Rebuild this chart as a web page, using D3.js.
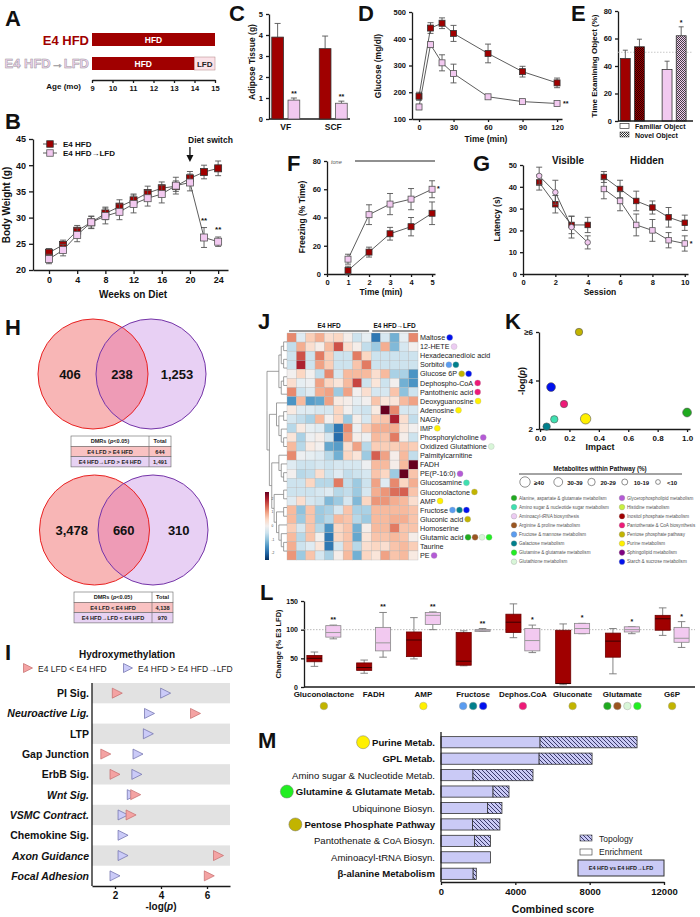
<!DOCTYPE html>
<html><head><meta charset="utf-8">
<script src="https://cdn.jsdelivr.net/npm/d3@7"></script>
<style>body{margin:0;background:#fff}svg{display:block}</style>
</head><body><svg id="c" width="700" height="917"></svg>
<script>
// ================= DATA =================
const ageTicks = [9,10,11,12,13,14,15];
const switchAge = 14;

const weeks = [0,2,4,6,8,10,12,14,16,18,20,22,24];
const bwHFD = [23.3,24.8,27.5,29.1,30.8,32.1,33.3,34.7,35.6,36.0,37.5,38.7,39.4];
const bwHFDerr = [0.8,0.9,1.0,1.1,1.2,1.3,1.2,1.3,1.2,1.0,1.3,1.3,1.4];
const bwLFD = [22.1,23.8,26.7,29.1,30.3,31.1,32.6,33.7,34.5,36.1,36.7,26.2,25.4];
const bwLFDerr = [0.9,1.1,1.3,1.2,1.5,1.5,1.7,1.5,1.7,1.6,1.6,1.9,0.9];
const bwTicksX = [0,4,8,12,16,20,24];
const bwTicksY = [20,25,30,35,40,45];

const fatDepots = ["VF","SCF"];
const fatHFD = [3.9,3.35], fatHFDerr = [0.65,0.6];
const fatLFD = [0.9,0.75], fatLFDerr = [0.1,0.1];

const gttTime = [0,10,20,30,60,90,120];
const gttHFD = [185,440,458,420,345,277,235];
const gttHFDerr = [15,20,20,30,35,20,18];
const gttLFD = [145,378,310,270,183,165,158];
const gttLFDerr = [10,10,30,35,6,5,4];

const objGroups = ["HFD","LFD"];
const objFamiliar = [45.5,37.5], objFamiliarErr = [6,6];
const objNovel = [54,62], objNovelErr = [5.5,6.5];

const fearMin = [1,2,3,4,5];
const fearHFD = [2.5,15.5,28.5,33.5,43], fearHFDerr = [3,3.5,4.5,6.5,8];
const fearLFD = [10.5,42,49.5,53,60], fearLFDerr = [3.5,7,7.5,7.5,6];

const sessions = [1,2,3,4,5,6,7,8,9,10];
const mwmHFD = [42,32,22.5,22.5,44.5,39,33.5,30.5,26,23.5];
const mwmHFDerr = [3.5,4,4,3.5,2.5,4,4.5,3,4.5,3.5];
const mwmLFD = [45,37.5,21.5,14.5,39,33.5,22.5,20,15.5,14];
const mwmLFDerr = [4,5.5,5,3,4.5,4.5,5,5,3.5,3.5];

const vennUp = [406,238,1253];
const vennDown = [3478,660,310];
const tableUpRows = ["E4 LFD > E4 HFD","E4 HFD→LFD > E4 HFD"], tableUpTotals = [644,1491];
const tableDownRows = ["E4 LFD < E4 HFD","E4 HFD→LFD < E4 HFD"], tableDownTotals = [4138,970];

const hmPathways = ["PI Sig.","Neuroactive Lig.","LTP","Gap Junction","ErbB Sig.","Wnt Sig.","VSMC Contract.","Chemokine Sig.","Axon Guidance","Focal Adhesion"];
const hmItalic = [false,true,false,false,false,true,true,false,true,true];
const hmLFDlt = [2.1,5.5,null,1.6,2.0,2.9,2.7,null,6.5,6.1];
const hmHFDgt = [4.2,3.5,3.45,3.0,2.95,2.75,2.35,2.35,2.35,2.0];
const hmTicks = [2,4,6];

const pathNames = ["Alanine, aspartate & glutamate metabolism","Amino sugar & nucleotide sugar metabolism","Aminoacyl-tRNA biosynthesis","Arginine & proline metabolism","Fructose & mannose metabolism","Galactose metabolism","Glutamine & glutamate metabolism","Glutathione metabolism","Glycerophospholipid metabolism","Histidine metabolism","Inositol phosphate metabolism","Pantothenate & CoA biosynthesis","Pentose phosphate pathway","Purine metabolism","Sphingolipid metabolism","Starch & sucrose metabolism"];
const pathColors = ["#1faa1f","#3fe0b0","#ecccf2","#9a5520","#5a9cf0","#007f8c","#22ee22","#d8f6d8","#b45ad6","#c8f040","#a00000","#ee1a78","#c2b400","#fff000","#800080","#0010ee"];

const metabolites = ["Maltose","12-HETE","Hexadecanedioic acid","Sorbitol","Glucose 6P","Dephospho-CoA","Pantothenic acid","Deoxyguanosine","Adenosine","NAGly","IMP","Phosphorylcholine","Oxidized Glutathione","Palmitylcarnitine","FADH","PE(P-16:0)","Glucosamine","Gluconolactone","AMP","Fructose","Gluconic acid","Homoserine","Glutamic acid","Taurine","PE"];
const metabDots = [[15],[2],[],[4,5],[12,15],[11],[11],[13],[13],[],[13],[8],[7],[],[],[8],[1],[12],[13],[4,5,15],[12],[],[0,3,7,6],[],[8]];
const samples = ["h1","h2","h3","h4","h5","h6","h7","h8","h9","l1","l2","l3","l4","l5"];
const heatValues = [
 [1.2,-0.3,0.6,0.9,0.4,0.5,0.1,-0.5,-0.2,-1.8,-0.4,-1.2,-0.2,1.2],
 [-0.6,0.9,0.4,0.1,0.8,1.6,0.4,0.1,-0.6,-0.9,0.9,-1.1,-0.4,0.0],
 [-0.5,1.6,-0.5,1.3,0.6,-0.5,-0.5,1.3,0.5,-0.5,-0.5,-0.5,-0.5,-0.5],
 [-0.5,2.0,-0.5,1.0,0.6,-0.5,-0.5,0.7,1.3,-0.5,-0.5,-0.5,-0.5,-0.5],
 [0.0,0.5,0.0,-0.6,1.2,-0.4,0.8,0.8,0.8,0.4,0.8,-0.8,-0.8,-1.5],
 [0.4,-0.2,-0.1,1.0,0.5,0.3,0.8,1.7,-0.5,0.3,-0.5,0.0,-1.2,-1.5],
 [1.2,-0.5,-0.3,0.9,1.0,-0.9,1.0,0.0,0.4,-0.4,-0.4,0.7,-1.0,-0.5],
 [-1.5,0.8,-1.4,-1.3,1.0,0.2,0.1,-0.2,0.0,0.7,0.3,0.3,0.8,1.0],
 [0.2,-0.3,-0.3,-0.4,-0.4,0.5,0.0,-0.4,-0.5,0.2,2.5,1.2,-0.4,-0.4],
 [-0.4,-0.6,-0.8,0.8,0.0,0.5,-0.9,0.1,-0.4,0.6,0.7,2.0,0.4,-0.6],
 [-0.7,0.2,-0.2,-0.3,-1.0,-1.8,1.2,-0.1,0.6,0.9,0.9,0.9,0.3,0.0],
 [0.3,-0.8,-0.1,0.1,-0.4,-1.9,1.0,0.1,-0.1,0.8,0.7,1.3,0.1,-0.5],
 [0.8,-0.7,0.2,0.0,-1.3,-1.4,0.4,1.0,-0.7,0.6,0.6,0.6,0.7,0.6],
 [1.2,-0.1,-0.2,-0.3,-0.7,-1.2,0.5,0.3,-0.9,1.5,1.0,0.1,0.8,-0.6],
 [-0.3,-0.5,-0.5,-0.4,-0.5,-0.4,-0.4,-0.4,-0.1,0.8,0.8,0.1,0.8,2.6],
 [0.0,-0.7,-0.6,0.4,-0.5,-0.3,-0.6,-0.5,-0.4,0.7,0.5,-0.9,2.5,0.7],
 [-0.5,-0.5,0.5,-0.7,-0.7,1.3,-0.6,-0.9,-0.5,1.0,-0.3,1.2,0.5,0.9],
 [-0.5,-0.5,-0.5,-0.4,-0.3,-0.7,-0.6,-0.9,-0.4,0.9,1.1,1.4,1.5,0.7],
 [-0.3,0.4,-0.4,-0.5,-1.1,-0.9,-0.4,-1.1,0.5,1.1,1.1,0.9,0.8,0.4],
 [0.8,-1.0,0.7,-0.9,-0.8,-0.4,0.7,-0.8,-0.8,0.8,0.8,0.8,0.8,0.7],
 [0.8,-0.9,0.7,-0.9,-0.7,0.8,0.7,-0.7,-0.9,0.8,0.8,0.9,0.9,0.7],
 [0.6,-0.4,0.7,-0.7,-1.5,0.5,0.7,-1.2,0.1,0.8,0.8,1.3,0.7,0.7],
 [0.8,-0.7,0.7,0.0,-1.8,0.5,0.7,-1.3,0.3,0.7,0.7,0.8,0.7,0.1],
 [0.9,-0.5,-0.3,0.3,-1.8,-0.4,0.7,-0.7,0.4,0.5,0.4,0.7,0.8,0.6],
 [1.1,-0.9,0.7,-0.4,-0.8,0.1,0.8,-1.2,0.5,0.3,1.0,0.7,0.8,0.2]
];
const heatTree = [[[[0,1],[2,3]],[[4,5],6]],[[7,[[8,9],[10,[11,12]]]],[[13,[14,[15,16]]],[[17,18],[[19,20],[21,[22,[23,24]]]]]]]];
const heatBarTicks = [2,1,0,-1,-2];

const kPath = [12,15,11,1,13,5,0];
const kImpact = [0.265,0.075,0.163,0.097,0.31,0.045,1.0];
const kLogP = [6.0,3.73,3.03,2.4,2.42,2.1,2.68];
const kPct = [24,31,25,21,42,21,33];
const kSizeLabels = ["≥40","30-39","20-29","10-19","<10"];
const kSizeMin = [40,30,20,10,0];
const kTicksX = [0,0.2,0.4,0.6,0.8,1.0];
const kTicksY = [2,4,6];

const lMetab = ["Gluconolactone","FADH","AMP","Fructose","Dephos.CoA","Gluconate","Glutamate","G6P"];
const lHFD = [[36,44,50,55,61],[24,29,34,42,47],[49,53,82,96,121],[37,38,45,95,98],[86,95,113,127,145],[4,6,6,99,110],[23,52,80,94,102],[90,99,119,125,138]];
const lLFD = [[84,87,95,107,108],[52,63,77,104,130],[100,109,125,130,131],[97,97,99,100,102],[60,63,81,102,108],[93,93,102,111,111],[93,96,100,105,105],[69,78,85,104,114]];
const lStars = ["**","**","**","**","*","*","*","*"];
const lDots = [[12],[],[13],[4,5,15],[11],[12],[0,3,7,6],[12]];
const lTicks = [0,50,100,150];

const mPath = ["Purine Metab.","GPL Metab.","Amino sugar & Nucleotide Metab.","Glutamine & Glutamate Metab.","Ubiquinone Biosyn.","Pentose Phosphate Pathway","Pantothenate & CoA Biosyn.","Aminoacyl-tRNA Biosyn.","β-alanine Metabolism"];
const mEnrich = [5330,5280,1720,2800,2500,1700,1800,2660,1730];
const mTopo = [5220,2850,3230,860,780,1470,860,0,170];
const mBold = [true,true,false,true,false,true,false,false,true];
const mDot = [13,null,null,6,null,12,null,null,null];
const mTicks = [0,4000,8000,12000];

// ================= DRAW =================
const FONT = '"Liberation Sans", Arial, Helvetica, sans-serif';
const svg = d3.select("#c").attr("font-family", FONT);
const DARK = "#a00000", PINK = "#f2c9f0", AX = "#1a1a1a", ERR = "#555";
const fmtD = d3.format("d");

function txt(x, y, s, o = {}) {
  const t = svg.append("text").attr("x", x).attr("y", y).text(s)
    .attr("font-size", o.fs || 9).attr("font-weight", o.fw || "bold")
    .attr("text-anchor", o.a || "start").attr("fill", o.fill || "#111");
  if (o.rot) t.attr("transform", `rotate(-90,${x},${y})`);
  if (o.it) t.attr("font-style", "italic");
  return t;
}
function letter(x, y, s) { txt(x, y, s, {fs: 22}); }
function styleAxis(g, fs) {
  g.select(".domain").attr("stroke", AX).attr("stroke-width", 1.3);
  g.selectAll(".tick line").attr("stroke", AX).attr("stroke-width", 1.3);
  g.selectAll(".tick text").attr("font-size", fs).attr("font-weight", "bold").attr("fill", "#111").attr("font-family", FONT);
  return g;
}
function errBars(xs, ys, es, x, y, cap, up) {
  xs.forEach((xv, i) => {
    const lo = up ? ys[i] : ys[i] - es[i], hi = ys[i] + es[i], cx = x(xv);
    svg.append("line").attr("x1", cx).attr("x2", cx).attr("y1", y(lo)).attr("y2", y(hi)).attr("stroke", ERR).attr("stroke-width", 0.9);
    svg.append("line").attr("x1", cx - cap).attr("x2", cx + cap).attr("y1", y(hi)).attr("y2", y(hi)).attr("stroke", ERR).attr("stroke-width", 0.9);
    if (!up) svg.append("line").attr("x1", cx - cap).attr("x2", cx + cap).attr("y1", y(lo)).attr("y2", y(lo)).attr("stroke", ERR).attr("stroke-width", 0.9);
  });
}
function series(xs, ys, es, x, y, fill, stroke, size, shapeFn) {
  errBars(xs, ys, es, x, y, 3, false);
  svg.append("path").attr("d", d3.line().x((d, i) => x(xs[i])).y(d => y(d))(ys))
    .attr("fill", "none").attr("stroke", "#333").attr("stroke-width", 0.8);
  xs.forEach((xv, i) => marker(x(xv), y(ys[i]), fill, stroke, size, shapeFn ? shapeFn(i) : "sq"));
}
function marker(cx, cy, fill, stroke, s, shape) {
  if (shape === "circ") svg.append("circle").attr("cx", cx).attr("cy", cy).attr("r", s / 2).attr("fill", fill).attr("stroke", stroke).attr("stroke-width", 0.8);
  else svg.append("rect").attr("x", cx - s / 2).attr("y", cy - s / 2).attr("width", s).attr("height", s).attr("fill", fill).attr("stroke", stroke).attr("stroke-width", 0.8);
}

// patterns
const defs = svg.append("defs");
function checker(id, bg, fg) {
  const p = defs.append("pattern").attr("id", id).attr("width", 2).attr("height", 2).attr("patternUnits", "userSpaceOnUse");
  p.append("rect").attr("width", 2).attr("height", 2).attr("fill", bg);
  p.append("rect").attr("width", 1).attr("height", 1).attr("fill", fg);
  p.append("rect").attr("x", 1).attr("y", 1).attr("width", 1).attr("height", 1).attr("fill", fg);
}
checker("chkRed", DARK, "#2a0000");
checker("chkPink", PINK, "#444");
checker("chkWhite", "#fff", "#333");
const hp = defs.append("pattern").attr("id", "hatch").attr("width", 4).attr("height", 4).attr("patternUnits", "userSpaceOnUse");
hp.append("rect").attr("width", 4).attr("height", 4).attr("fill", "#cacaf6");
hp.append("path").attr("d", "M-1,-1 L5,5 M-1,3 L1,5 M3,-1 L5,1").attr("stroke", "#2a2a5c").attr("stroke-width", 0.9);

// ---------- A ----------
letter(5, 26, "A");
const xA = d3.scaleLinear().domain([9, 15]).range([92, 215]);
txt(89, 45, "E4 HFD", {fs: 13, a: "end", fill: DARK});
txt(89, 68, "E4 HFD→LFD", {fs: 13, a: "end", fill: "#f0d2f0"}).attr("stroke", "#9a9a9a").attr("stroke-width", 0.5);
svg.append("rect").attr("x", xA(9)).attr("y", 33).attr("width", xA(15) - xA(9)).attr("height", 13).attr("fill", DARK);
txt((xA(9) + xA(15)) / 2, 43, "HFD", {fs: 8.5, a: "middle", fill: "#fff"});
svg.append("rect").attr("x", xA(9)).attr("y", 57).attr("width", xA(switchAge) - xA(9)).attr("height", 13).attr("fill", DARK);
svg.append("rect").attr("x", xA(switchAge)).attr("y", 57).attr("width", xA(15) - xA(switchAge)).attr("height", 13).attr("fill", "#fbe2e8").attr("stroke", "#b08080").attr("stroke-width", 0.5);
txt((xA(9) + xA(switchAge)) / 2, 67, "HFD", {fs: 8.5, a: "middle", fill: "#fff"});
txt((xA(switchAge) + xA(15)) / 2, 67, "LFD", {fs: 8, a: "middle", fill: "#222"});
styleAxis(svg.append("g").attr("transform", "translate(0,80)").call(d3.axisBottom(xA).tickValues(ageTicks).tickSize(3).tickSizeOuter(0).tickFormat(fmtD)), 7.5);
txt(81, 89, "Age (mo)", {fs: 8, a: "end"});

// ---------- B ----------
letter(5, 129, "B");
const xB = d3.scaleLinear().domain([-2.27, 25.4]).range([33, 228]);
const yB = d3.scaleLinear().domain([20, 45]).range([270, 139]);
styleAxis(svg.append("g").attr("transform", "translate(0,270)").call(d3.axisBottom(xB).tickValues(bwTicksX).tickFormat(fmtD).tickSize(4).tickSizeOuter(0)), 9);
styleAxis(svg.append("g").attr("transform", "translate(33,0)").call(d3.axisLeft(yB).tickValues(bwTicksY).tickFormat(fmtD).tickSize(4).tickSizeOuter(0)), 9);
series(weeks, bwHFD, bwHFDerr, xB, yB, DARK, "#333", 7);
series(weeks, bwLFD, bwLFDerr, xB, yB, PINK, "#555", 7);
["**", "**"].forEach((s, i) => {
  const w = weeks[11 + i];
  txt(xB(w), yB(bwLFD[11 + i] + bwLFDerr[11 + i]) - 5, s, {fs: 8, a: "middle"});
});
txt(188, 143, "Diet switch", {fs: 8.5});
svg.append("line").attr("x1", xB(20)).attr("x2", xB(20)).attr("y1", 147).attr("y2", 157).attr("stroke", "#111").attr("stroke-width", 1.3);
svg.append("path").attr("d", `M${xB(20) - 3.5},155 L${xB(20) + 3.5},155 L${xB(20)},162 Z`).attr("fill", "#111");
[["E4 HFD", DARK, "#333", 144], ["E4 HFD→LFD", PINK, "#555", 153]].forEach(([t, f, s, y]) => {
  svg.append("line").attr("x1", 43).attr("x2", 57).attr("y1", y).attr("y2", y).attr("stroke", "#333").attr("stroke-width", 0.8);
  marker(50, y, f, s, 6.5, "sq");
  txt(63, y + 3, t, {fs: 8});
});
txt(10, 205, "Body Weight (g)", {fs: 10, a: "middle", rot: true});
txt(133, 298, "Weeks on Diet", {fs: 10, a: "middle"});

// ---------- C ----------
letter(229, 21, "C");
const yC = d3.scaleLinear().domain([0, 5]).range([119, 14]);
const xC = d3.scaleBand().domain(fatDepots).range([262, 357]);
const subC = d3.scaleBand().domain(["HFD", "LFD"]).range([-14, 14]).paddingInner(0.28);
styleAxis(svg.append("g").attr("transform", "translate(269,0)").call(d3.axisLeft(yC).ticks(5).tickFormat(fmtD).tickSize(3).tickSizeOuter(0)), 7.5);
svg.append("line").attr("x1", 269).attr("x2", 350).attr("y1", 119).attr("y2", 119).attr("stroke", AX).attr("stroke-width", 1.3);
fatDepots.forEach((d, i) => {
  [["HFD", fatHFD[i], fatHFDerr[i], DARK, "#333"], ["LFD", fatLFD[i], fatLFDerr[i], PINK, "#555"]].forEach(([g, v, e, f, s]) => {
    const x0 = xC(d) + xC.bandwidth() / 2 + subC(g), w = subC.bandwidth(), cx = x0 + w / 2;
    errBars([cx], [v], [e], c => c, yC, 3, true);
    svg.append("rect").attr("x", x0).attr("y", yC(v)).attr("width", w).attr("height", yC(0) - yC(v)).attr("fill", f).attr("stroke", s).attr("stroke-width", 0.8);
    if (g === "LFD") txt(cx, yC(v + e) - 2, "**", {fs: 7, a: "middle"});
  });
  txt(xC(d) + xC.bandwidth() / 2, 130, d, {fs: 8.5, a: "middle"});
});
txt(255, 62, "Adipose Tissue (g)", {fs: 8.5, a: "middle", rot: true});

// ---------- D ----------
letter(358, 21, "D");
const xD = d3.scaleLinear().domain([-6.1, 124.3]).range([412, 562]);
const yD = d3.scaleLinear().domain([100, 500]).range([119, 12]);
styleAxis(svg.append("g").attr("transform", "translate(0,119)").call(d3.axisBottom(xD).tickValues([0, 30, 60, 90, 120]).tickFormat(fmtD).tickSize(3).tickSizeOuter(0)), 7.5);
styleAxis(svg.append("g").attr("transform", "translate(412,0)").call(d3.axisLeft(yD).tickValues([100, 200, 300, 400, 500]).tickFormat(fmtD).tickSize(3).tickSizeOuter(0)), 7.5);
series(gttTime, gttHFD, gttHFDerr, xD, yD, DARK, "#333", 6);
series(gttTime, gttLFD, gttLFDerr, xD, yD, PINK, "#555", 6);
txt(xD(120) + 6, yD(gttLFD[6]) + 3, "**", {fs: 7});
txt(381, 66, "Glucose (mg/dl)", {fs: 8.5, a: "middle", rot: true});
txt(486, 142, "Time (min)", {fs: 8.5, a: "middle"});

// ---------- E ----------
letter(571, 21, "E");
const yE = d3.scaleLinear().domain([0, 80]).range([121, 11]);
const xE = d3.scaleBand().domain(objGroups).range([611.5, 695]);
const subE = d3.scaleBand().domain(["Familiar", "Novel"]).range([-12, 12]).paddingInner(0.3);
styleAxis(svg.append("g").attr("transform", "translate(618,0)").call(d3.axisLeft(yE).tickValues([0, 20, 40, 60, 80]).tickFormat(fmtD).tickSize(3).tickSizeOuter(0)), 7.5);
svg.append("line").attr("x1", 618).attr("x2", 693).attr("y1", yE(50)).attr("y2", yE(50)).attr("stroke", "#bbb").attr("stroke-width", 0.8).attr("stroke-dasharray", "1.5,1.5");
const eFills = [[DARK, "url(#chkRed)"], [PINK, "url(#chkPink)"]];
objGroups.forEach((g, i) => {
  [["Familiar", objFamiliar[i], objFamiliarErr[i], eFills[i][0]], ["Novel", objNovel[i], objNovelErr[i], eFills[i][1]]].forEach(([k, v, e, f]) => {
    const x0 = xE(g) + xE.bandwidth() / 2 + subE(k), w = subE.bandwidth(), cx = x0 + w / 2;
    errBars([cx], [v], [e], c => c, yE, 2.5, true);
    svg.append("rect").attr("x", x0).attr("y", yE(v)).attr("width", w).attr("height", yE(0) - yE(v)).attr("fill", f).attr("stroke", "#333").attr("stroke-width", 0.8);
    if (g === "LFD" && k === "Novel") txt(cx, yE(v + e) - 2, "*", {fs: 7, a: "middle"});
  });
});
svg.append("line").attr("x1", 618).attr("x2", 693).attr("y1", 121).attr("y2", 121).attr("stroke", AX).attr("stroke-width", 1.3);
svg.append("rect").attr("x", 620).attr("y", 123.5).attr("width", 9).attr("height", 5).attr("fill", "#fff").attr("stroke", "#333").attr("stroke-width", 0.7);
txt(635, 129, "Familiar Object", {fs: 7});
svg.append("rect").attr("x", 620).attr("y", 132).attr("width", 9).attr("height", 5).attr("fill", "url(#chkWhite)").attr("stroke", "#333").attr("stroke-width", 0.5);
txt(635, 137.5, "Novel Object", {fs: 7});
txt(597, 66, "Time Examining Object (%)", {fs: 8, a: "middle", rot: true});

// ---------- F ----------
letter(287, 171, "F");
const xF = d3.scaleLinear().domain([0, 5.14]).range([327, 435]);
const yF = d3.scaleLinear().domain([0, 80]).range([274, 161]);
styleAxis(svg.append("g").attr("transform", "translate(0,274)").call(d3.axisBottom(xF).tickValues([0, 1, 2, 3, 4, 5]).tickFormat(fmtD).tickSize(3).tickSizeOuter(0)), 7.5);
styleAxis(svg.append("g").attr("transform", "translate(327,0)").call(d3.axisLeft(yF).tickValues([0, 20, 40, 60, 80]).tickFormat(fmtD).tickSize(3).tickSizeOuter(0)), 7.5);
txt(331, 164, "tone", {fs: 5.5, fw: "normal", it: true, fill: "#555"});
svg.append("line").attr("x1", 355).attr("x2", 435).attr("y1", yF(80)).attr("y2", yF(80)).attr("stroke", "#222").attr("stroke-width", 1.2);
series(fearMin, fearHFD, fearHFDerr, xF, yF, DARK, "#333", 6);
series(fearMin, fearLFD, fearLFDerr, xF, yF, PINK, "#555", 6);
txt(xF(5) + 5, yF(fearLFD[4]) + 2, "*", {fs: 7});
txt(305, 217, "Freezing (% Time)", {fs: 8.5, a: "middle", rot: true});
txt(381, 295, "Time  (min)", {fs: 8.5, a: "middle"});

// ---------- G ----------
letter(473, 171, "G");
const xG = d3.scaleLinear().domain([0, 10.2]).range([523, 688]);
const yG = d3.scaleLinear().domain([0, 50]).range([274, 165]);
styleAxis(svg.append("g").attr("transform", "translate(0,274)").call(d3.axisBottom(xG).tickValues([0, 2, 4, 6, 8, 10]).tickFormat(fmtD).tickSize(3).tickSizeOuter(0)), 7.5);
styleAxis(svg.append("g").attr("transform", "translate(523,0)").call(d3.axisLeft(yG).tickValues([0, 10, 20, 30, 40, 50]).tickFormat(fmtD).tickSize(3).tickSizeOuter(0)), 7.5);
[[0, 4], [4, 10]].forEach(([a, b]) => {
  const s = sessions.slice(a, b);
  series(s, mwmHFD.slice(a, b), mwmHFDerr.slice(a, b), xG, yG, DARK, "#333", 5.5);
  series(s, mwmLFD.slice(a, b), mwmLFDerr.slice(a, b), xG, yG, PINK, "#555", 5.5, () => a === 0 ? "circ" : "sq");
});
txt(xG(10) + 5, yG(mwmLFD[9]) + 3, "*", {fs: 7});
txt(568, 164, "Visible", {fs: 10, a: "middle"});
txt(647, 164, "Hidden", {fs: 10, a: "middle"});
txt(500, 219, "Latency (s)", {fs: 8.5, a: "middle", rot: true});
txt(600, 295, "Session", {fs: 8.5, a: "middle"});

// ---------- H ----------
letter(5, 335, "H");
function venn(cy, cxL, cxR, vals) {
  const r = 55, id = "clip" + cy;
  defs.append("clipPath").attr("id", id).append("circle").attr("cx", cxL).attr("cy", cy).attr("r", r);
  svg.append("circle").attr("cx", cxL).attr("cy", cy).attr("r", r).attr("fill", "#f8b6b6");
  svg.append("circle").attr("cx", cxR).attr("cy", cy).attr("r", r).attr("fill", "#e8d0f4");
  svg.append("circle").attr("cx", cxR).attr("cy", cy).attr("r", r).attr("fill", "#ee9bb6").attr("clip-path", `url(#${id})`);
  svg.append("circle").attr("cx", cxL).attr("cy", cy).attr("r", r).attr("fill", "none").attr("stroke", "#e82222").attr("stroke-width", 1);
  svg.append("circle").attr("cx", cxR).attr("cy", cy).attr("r", r).attr("fill", "none").attr("stroke", "#7434a8").attr("stroke-width", 1);
  const fmt = d3.format(",");
  const xs = [(cxL - r + cxR - r) / 2 + 3, (cxR - r + cxL + r) / 2, (cxL + r + cxR + r) / 2];
  vals.forEach((v, i) => txt(xs[i], cy + 5, fmt(v), {fs: 13, a: "middle"}));
}
venn(374, 93, 151, vennUp);
venn(530, 94.5, 153, vennDown);
function table(x0, y0, split, w, rows, totals) {
  const rh = 10.3, fills = ["#fff", "#f9c2c2", "#e7d2f3"];
  const labels = [["DMRs (", "p", "<0.05)"]].concat(rows.map(r => [r]));
  const tots = ["Total"].concat(totals.map(d3.format(",")));
  labels.forEach((l, i) => {
    svg.append("rect").attr("x", x0).attr("y", y0 + i * rh).attr("width", w).attr("height", rh).attr("fill", fills[i]).attr("stroke", "#666").attr("stroke-width", 0.6);
    svg.append("line").attr("x1", x0 + split).attr("x2", x0 + split).attr("y1", y0 + i * rh).attr("y2", y0 + (i + 1) * rh).attr("stroke", "#666").attr("stroke-width", 0.6);
    const t = txt(x0 + split / 2, y0 + i * rh + 7.3, "", {fs: 5.6, a: "middle", fill: "#222"});
    l.forEach((s, j) => t.append("tspan").text(s).attr("font-style", l.length > 1 && j === 1 ? "italic" : null));
    txt(x0 + split + (w - split) / 2, y0 + i * rh + 7.3, tots[i], {fs: 5.6, a: "middle", fill: "#222"});
  });
}
table(71, 436, 78, 100, tableUpRows, tableUpTotals);
table(74, 592, 78, 99, tableDownRows, tableDownTotals);

// ---------- I ----------
letter(5, 660, "I");
txt(127, 658, "Hydroxymethylation", {fs: 10, a: "middle"});
const triR = "#f4a3a3", triRs = "#c46a6a", triB = "#cbcbf8", triBs = "#6a6aa8";
function tri(cx, cy, f, s, sz) {
  svg.append("path").attr("d", `M${cx - sz / 2},${cy - sz / 2} L${cx + sz / 2},${cy} L${cx - sz / 2},${cy + sz / 2} Z`).attr("fill", f).attr("stroke", s).attr("stroke-width", 0.7);
}
tri(28, 668, triR, triRs, 9); txt(38, 671.5, "E4 LFD < E4 HFD", {fs: 8.5, fw: "normal", fill: "#222"});
tri(128, 668, triB, triBs, 9); txt(138, 671.5, "E4 HFD > E4 HFD→LFD", {fs: 8.5, fw: "normal", fill: "#222"});
const yI = d3.scaleBand().domain(hmPathways).range([683, 886]);
const xI = d3.scaleLinear().domain([1, 7]).range([92, 230]);
hmPathways.forEach((p, i) => {
  if (i % 2 === 0) svg.append("rect").attr("x", 92).attr("y", yI(p)).attr("width", xI(7) - 92).attr("height", yI.bandwidth()).attr("fill", "#e2e2e2");
  txt(89, yI(p) + yI.bandwidth() / 2 + 4, p, {fs: 10.5, a: "end", it: hmItalic[i]});
});
hmPathways.forEach((p, i) => {
  const cy = yI(p) + yI.bandwidth() / 2;
  tri(xI(hmHFDgt[i]), cy, triB, triBs, 10);
  if (hmLFDlt[i] !== null) tri(xI(hmLFDlt[i]), cy, triR, triRs, 10);
});
styleAxis(svg.append("g").attr("transform", "translate(0,886)").call(d3.axisBottom(xI).tickValues(hmTicks).tickFormat(fmtD).tickSize(3).tickSizeOuter(0)), 10);
svg.append("line").attr("x1", 92).attr("x2", 92).attr("y1", 683).attr("y2", 886).attr("stroke", AX).attr("stroke-width", 1.3);
{
  const t = txt(161, 910, "", {fs: 10, a: "middle"});
  t.append("tspan").text("-log(");
  t.append("tspan").text("p").attr("font-style", "italic");
  t.append("tspan").text(")");
}

// ---------- J ----------
letter(258, 329, "J");
const xJ = d3.scaleBand().domain(samples).range([287, 418]);
const yJ = d3.scaleBand().domain(metabolites).range([333, 560]);
const heatColor = d3.scaleSequential(t => d3.interpolateRdBu(1 - t)).domain([-2.5, 2.5]);
metabolites.forEach((m, i) => {
  samples.forEach((s, j) => {
    svg.append("rect").attr("x", xJ(s)).attr("y", yJ(m)).attr("width", xJ.bandwidth()).attr("height", yJ.bandwidth())
      .attr("fill", heatColor(heatValues[i][j])).attr("stroke", "#b5b5b5").attr("stroke-width", 0.35);
  });
  const t = txt(420, yJ(m) + yJ.bandwidth() / 2 + 2.6, m, {fs: 7.2, fw: "normal", fill: "#222"});
  const w = t.node().getComputedTextLength();
  metabDots[i].forEach((p, k) => {
    svg.append("circle").attr("cx", 420 + w + 4.5 + k * 7).attr("cy", yJ(m) + yJ.bandwidth() / 2).attr("r", 3)
      .attr("fill", pathColors[p]).attr("stroke", "#aaa").attr("stroke-width", 0.3);
  });
});
txt((xJ("h1") + xJ("h9") + xJ.bandwidth()) / 2, 328, "E4 HFD", {fs: 6.5, a: "middle"});
txt((xJ("l1") + xJ("l5") + xJ.bandwidth()) / 2, 328, "E4 HFD→LFD", {fs: 6.5, a: "middle"});
svg.append("line").attr("x1", xJ("h1") + 2).attr("x2", xJ("h9") + xJ.bandwidth() - 2).attr("y1", 331).attr("y2", 331).attr("stroke", "#333").attr("stroke-width", 1);
svg.append("line").attr("x1", xJ("l1") + 1).attr("x2", xJ("l5") + xJ.bandwidth()).attr("y1", 331).attr("y2", 331).attr("stroke", "#333").attr("stroke-width", 1);
// dendrogram
const root = d3.hierarchy(heatTree, d => Array.isArray(d) ? d : null);
d3.cluster().size([yJ.step() * (metabolites.length - 1), 19]).separation(() => 1)(root);
const dx = d => 267 + d.y, dy = d => yJ(metabolites[0]) + yJ.bandwidth() / 2 + d.x;
root.links().forEach(l => {
  svg.append("path").attr("d", `M${dx(l.source)},${dy(l.source)} V${dy(l.target)} H${l.target.children ? dx(l.target) : 287}`)
    .attr("fill", "none").attr("stroke", "#777").attr("stroke-width", 0.7);
});
// colorbar
const grad = defs.append("linearGradient").attr("id", "hmgrad").attr("x1", 0).attr("x2", 0).attr("y1", 0).attr("y2", 1);
d3.range(0, 1.01, 0.1).forEach(t => grad.append("stop").attr("offset", t).attr("stop-color", heatColor(2.5 - 5 * t)));
const yCB = d3.scaleLinear().domain([2.5, -2.5]).range([492, 560]);
svg.append("rect").attr("x", 265).attr("y", 492).attr("width", 4).attr("height", 68).attr("fill", "url(#hmgrad)");
heatBarTicks.forEach(v => txt(271.5, yCB(v) + 1, String(v), {fs: 3.2, fw: "normal", fill: "#444"}));

// ---------- K ----------
letter(505, 329, "K");
const xK = d3.scaleLinear().domain([-0.007, 1.02]).range([539, 690]);
const yK = d3.scaleLinear().domain([2, 6]).range([429, 332]);
const rK = d3.scaleThreshold().domain([10, 20, 30, 40]).range([2.4, 3.0, 3.7, 4.4, 5.2]);
styleAxis(svg.append("g").attr("transform", "translate(0,429)").call(d3.axisBottom(xK).tickValues(kTicksX).tickFormat(d3.format(".1f")).tickSize(3).tickSizeOuter(0)), 8);
styleAxis(svg.append("g").attr("transform", "translate(539,0)").call(d3.axisLeft(yK).tickValues(kTicksY).tickFormat(d => d === 6 ? "≥6" : String(d)).tickSize(3).tickSizeOuter(0)), 8);
kPath.forEach((p, i) => {
  svg.append("circle").attr("cx", xK(kImpact[i])).attr("cy", yK(kLogP[i])).attr("r", rK(kPct[i]))
    .attr("fill", pathColors[p]).attr("stroke", "#555").attr("stroke-width", 0.6);
});
txt(600, 450, "Impact", {fs: 9, a: "middle"});
{
  const t = txt(525, 381, "", {fs: 9, a: "middle", rot: true});
  t.append("tspan").text("-log(");
  t.append("tspan").text("p").attr("font-style", "italic");
  t.append("tspan").text(")");
}
txt(600, 471, "Metabolites within Pathway (%)", {fs: 6.3, a: "middle"});
svg.append("line").attr("x1", 519).attr("x2", 682).attr("y1", 474).attr("y2", 474).attr("stroke", "#333").attr("stroke-width", 0.9);
const sizeX = d3.scalePoint().domain(kSizeLabels).range([525, 658]);
kSizeLabels.forEach((s, i) => {
  svg.append("circle").attr("cx", sizeX(s)).attr("cy", 482).attr("r", rK(kSizeMin[i])).attr("fill", "#fff").attr("stroke", "#444").attr("stroke-width", 0.6);
  txt(sizeX(s) + 9, 484.5, s, {fs: 6});
});
pathNames.forEach((n, i) => {
  const col = Math.floor(i / 8), row = i % 8;
  const cx = col === 0 ? 514 : 622, cy = 498 + row * 9.1;
  svg.append("circle").attr("cx", cx).attr("cy", cy).attr("r", 2.8).attr("fill", pathColors[i]).attr("stroke", "#888").attr("stroke-width", 0.3);
  txt(cx + 5, cy + 1.6, n, {fs: 4.6, fw: "normal", fill: "#555"});
});

// ---------- L ----------
letter(260, 600, "L");
const yL = d3.scaleLinear().domain([0, 150]).range([687, 601]);
const xL = d3.scaleBand().domain(lMetab).range([299, 697]);
const subL = d3.scaleBand().domain(["HFD", "LFD"]).range([-17, 17]).paddingInner(0.2);
styleAxis(svg.append("g").attr("transform", "translate(304,0)").call(d3.axisLeft(yL).tickValues(lTicks).tickFormat(fmtD).tickSize(3).tickSizeOuter(0)), 7);
svg.append("line").attr("x1", 304).attr("x2", 695).attr("y1", yL(100)).attr("y2", yL(100)).attr("stroke", "#aaa").attr("stroke-width", 0.8).attr("stroke-dasharray", "1.5,1.5");
function box(cx, w, q, fill, stroke, med) {
  svg.append("line").attr("x1", cx).attr("x2", cx).attr("y1", yL(q[0])).attr("y2", yL(q[4])).attr("stroke", "#777").attr("stroke-width", 0.9);
  [q[0], q[4]].forEach(v => svg.append("line").attr("x1", cx - w / 4).attr("x2", cx + w / 4).attr("y1", yL(v)).attr("y2", yL(v)).attr("stroke", "#777").attr("stroke-width", 0.9));
  svg.append("rect").attr("x", cx - w / 2).attr("y", yL(q[3])).attr("width", w).attr("height", Math.max(0.8, yL(q[1]) - yL(q[3]))).attr("fill", fill).attr("stroke", stroke).attr("stroke-width", 0.8);
  svg.append("line").attr("x1", cx - w / 2).attr("x2", cx + w / 2).attr("y1", yL(q[2])).attr("y2", yL(q[2])).attr("stroke", med).attr("stroke-width", 1);
}
lMetab.forEach((m, i) => {
  const c = xL(m) + xL.bandwidth() / 2, w = subL.bandwidth();
  box(c + subL("HFD") + w / 2, w, lHFD[i], DARK, "#6a0000", "#3a0000");
  const cl = c + subL("LFD") + w / 2;
  box(cl, w, lLFD[i], PINK, "#888", "#999");
  txt(cl, yL(lLFD[i][4]) - 3, lStars[i], {fs: 7, a: "middle"});
  txt(c, 697, m, {fs: 8, a: "middle"});
  const n = lDots[i].length;
  lDots[i].forEach((p, k) => {
    svg.append("circle").attr("cx", c + (k - (n - 1) / 2) * 10).attr("cy", 706).attr("r", 3.8)
      .attr("fill", pathColors[p]).attr("stroke", "#999").attr("stroke-width", 0.4);
  });
});
svg.append("line").attr("x1", 304).attr("x2", 695).attr("y1", 687).attr("y2", 687).attr("stroke", AX).attr("stroke-width", 1.3);
txt(281, 644, "Change (% E3 LFD)", {fs: 7.5, a: "middle", rot: true});

// ---------- M ----------
letter(258, 748, "M");
const xM = d3.scaleLinear().domain([0, 12000]).range([441, 664]);
const yM = d3.scaleBand().domain(mPath).range([734, 882]).paddingInner(0.32).paddingOuter(0.16);
mPath.forEach((p, i) => {
  const y0 = yM(p), h = yM.bandwidth();
  svg.append("rect").attr("x", xM(0)).attr("y", y0).attr("width", xM(mEnrich[i]) - xM(0)).attr("height", h).attr("fill", "#cacaf6").attr("stroke", "#333").attr("stroke-width", 0.8);
  if (mTopo[i] > 0) svg.append("rect").attr("x", xM(mEnrich[i])).attr("y", y0).attr("width", xM(mEnrich[i] + mTopo[i]) - xM(mEnrich[i])).attr("height", h).attr("fill", "url(#hatch)").attr("stroke", "#333").attr("stroke-width", 0.8);
  const t = txt(435, y0 + h / 2 + 3.5, p, {fs: 9.6, fw: mBold[i] ? "bold" : "normal", a: "end", fill: "#111"});
  if (mDot[i] !== null) {
    const w = t.node().getComputedTextLength();
    svg.append("circle").attr("cx", 435 - w - 9).attr("cy", y0 + h / 2).attr("r", 6.5).attr("fill", pathColors[mDot[i]]).attr("stroke", "#777").attr("stroke-width", 0.5);
  }
});
styleAxis(svg.append("g").attr("transform", "translate(0,882)").call(d3.axisBottom(xM).tickValues(mTicks).tickFormat(fmtD).tickSize(3).tickSizeOuter(0)), 9.5);
svg.append("line").attr("x1", 441).attr("x2", 441).attr("y1", 732).attr("y2", 882).attr("stroke", AX).attr("stroke-width", 1.3);
txt(553, 913, "Combined score", {fs: 10.5, a: "middle"});
svg.append("rect").attr("x", 580).attr("y", 835).attr("width", 12).attr("height", 6).attr("fill", "url(#hatch)").attr("stroke", "#333").attr("stroke-width", 0.6);
txt(599, 841.5, "Topology", {fs: 8.5, fw: "normal", fill: "#222"});
svg.append("rect").attr("x", 580).attr("y", 849).attr("width", 12).attr("height", 6).attr("fill", "#fff").attr("stroke", "#333").attr("stroke-width", 0.6);
txt(599, 855, "Enrichment", {fs: 8.5, fw: "normal", fill: "#222"});
svg.append("rect").attr("x", 578).attr("y", 860).attr("width", 86).attr("height", 16).attr("fill", "#cacaf6").attr("stroke", "#333").attr("stroke-width", 1);
txt(621, 870, "E4 HFD vs E4 HFD→LFD", {fs: 5.5, a: "middle", fill: "#222"});
</script></body></html>
